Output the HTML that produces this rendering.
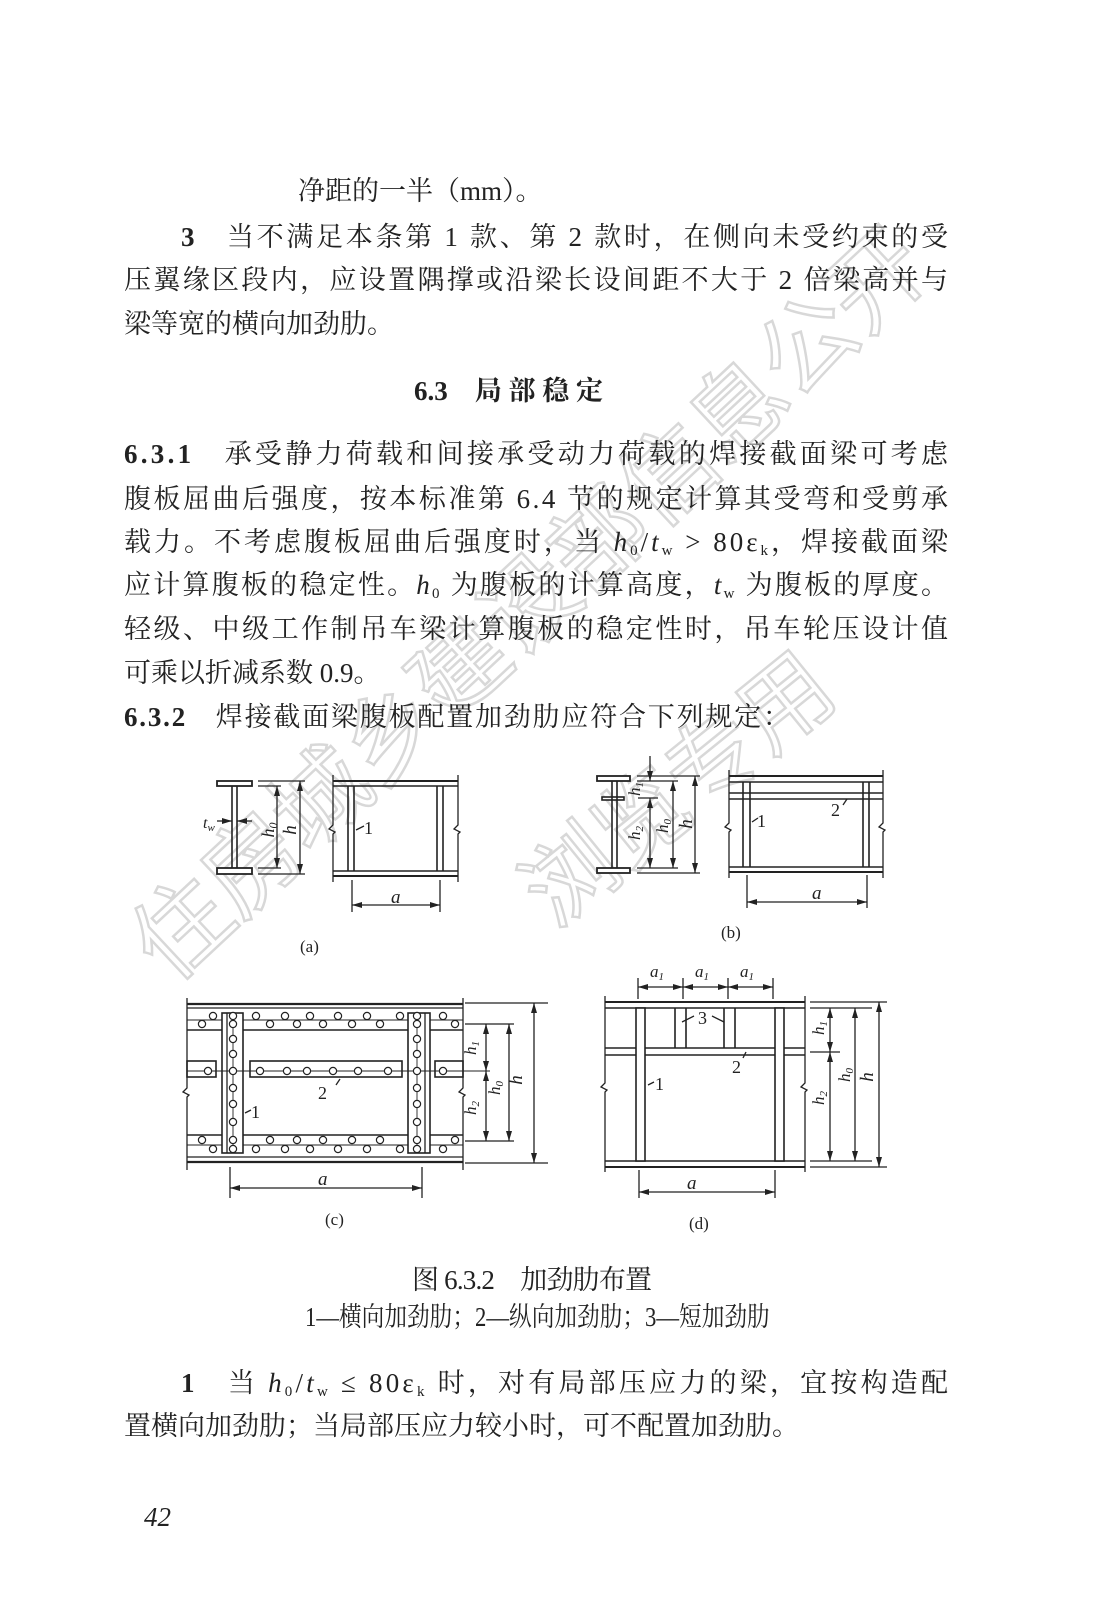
<!DOCTYPE html>
<html><head><meta charset="utf-8">
<style>
html,body{margin:0;padding:0;background:#fff}
svg{display:block}
.t{font-family:"Liberation Serif","Noto Serif CJK SC","Noto Sans CJK SC",serif;font-size:27px;fill:#222}
.d{font-family:"Liberation Serif",serif;font-style:italic;fill:#222}
.n{font-family:"Liberation Serif",serif;fill:#222}
</style></head><body>
<svg width="1103" height="1597" viewBox="0 0 1103 1597" xmlns="http://www.w3.org/2000/svg">
<defs>
<marker id="ar" viewBox="0 0 10 6" refX="10" refY="3" markerWidth="10" markerHeight="6" markerUnits="userSpaceOnUse" orient="auto-start-reverse">
<path d="M0,0 L10,3 L0,6 z" fill="#222"/></marker>
</defs>

<!-- watermark -->
<g font-family="'Noto Sans CJK SC',sans-serif" fill="none" stroke="#d8d8d8" stroke-width="2.5">
<text transform="translate(170,985) rotate(-43)" font-size="95">住房城乡建设部信息公开</text>
<text transform="translate(555,930) rotate(-39)" font-size="92">浏览专用</text>
</g>

<!-- body text -->
<text class="t" x="298" y="200">净距的一半（mm）。</text>
<text class="t" x="181" y="246" textLength="767" lengthAdjust="spacing"><tspan font-weight="bold">3</tspan>　当不满足本条第 1 款、第 2 款时，在侧向未受约束的受</text>
<text class="t" x="124" y="289" textLength="824" lengthAdjust="spacing">压翼缘区段内，应设置隅撑或沿梁长设间距不大于 2 倍梁高并与</text>
<text class="t" x="124" y="333">梁等宽的横向加劲肋。</text>
<text class="t" x="414" y="400" font-weight="bold" font-family="'Liberation Serif','Noto Sans CJK SC',sans-serif" font-size="25">6.3　局 部 稳 定</text>

<text class="t" x="124" y="463" textLength="824" lengthAdjust="spacing"><tspan font-weight="bold">6.3.1</tspan>　承受静力荷载和间接承受动力荷载的焊接截面梁可考虑</text>
<text class="t" x="124" y="508" textLength="824" lengthAdjust="spacing">腹板屈曲后强度，按本标准第 6.4 节的规定计算其受弯和受剪承</text>
<text class="t" x="124" y="551" textLength="824" lengthAdjust="spacing">载力。不考虑腹板屈曲后强度时，当 <tspan font-style="italic">h</tspan><tspan font-size="15" dy="4">0</tspan><tspan dy="-4">/</tspan><tspan font-style="italic">t</tspan><tspan font-size="15" dy="4">w</tspan><tspan dy="-4"> &gt; 80ε</tspan><tspan font-size="15" dy="4">k</tspan><tspan dy="-4">，焊接截面梁</tspan></text>
<text class="t" x="124" y="594" textLength="824" lengthAdjust="spacing">应计算腹板的稳定性。<tspan font-style="italic">h</tspan><tspan font-size="15" dy="4">0</tspan><tspan dy="-4"> 为腹板的计算高度，</tspan><tspan font-style="italic">t</tspan><tspan font-size="15" dy="4">w</tspan><tspan dy="-4"> 为腹板的厚度。</tspan></text>
<text class="t" x="124" y="638" textLength="824" lengthAdjust="spacing">轻级、中级工作制吊车梁计算腹板的稳定性时，吊车轮压设计值</text>
<text class="t" x="124" y="682">可乘以折减系数 0.9。</text>
<text class="t" x="124" y="726" textLength="666" lengthAdjust="spacing"><tspan font-weight="bold">6.3.2</tspan>　焊接截面梁腹板配置加劲肋应符合下列规定：</text>

<!-- ===== (a) ===== -->
<g stroke="#222" fill="none" stroke-width="1.3">
<rect x="217" y="781" width="35" height="5" fill="#fff" stroke-width="1.8"/>
<rect x="217" y="868" width="35" height="6" fill="#fff" stroke-width="1.8"/>
<line x1="232" y1="786" x2="232" y2="868" stroke-width="1.6"/>
<line x1="237" y1="786" x2="237" y2="868" stroke-width="1.6"/>
<line x1="258" y1="781" x2="305" y2="781"/><line x1="258" y1="874" x2="305" y2="874"/>
<line x1="258" y1="786" x2="281" y2="786"/><line x1="258" y1="868" x2="281" y2="868"/>
<line x1="277" y1="786" x2="277" y2="868" marker-start="url(#ar)" marker-end="url(#ar)"/>
<line x1="300" y1="781" x2="300" y2="874" marker-start="url(#ar)" marker-end="url(#ar)"/>
<line x1="217" y1="821" x2="232" y2="821" marker-end="url(#ar)"/>
<line x1="252" y1="821" x2="237" y2="821" marker-end="url(#ar)"/>
<line x1="333" y1="781" x2="458" y2="781" stroke-width="2"/>
<line x1="333" y1="786" x2="458" y2="786" stroke-width="1.6"/>
<line x1="333" y1="871" x2="458" y2="871" stroke-width="1.6"/>
<line x1="333" y1="876" x2="458" y2="876" stroke-width="2"/>
<line x1="348" y1="786" x2="348" y2="871" stroke-width="1.6"/>
<line x1="354" y1="786" x2="354" y2="871" stroke-width="1.6"/>
<line x1="437" y1="786" x2="437" y2="871" stroke-width="1.6"/>
<line x1="443" y1="786" x2="443" y2="871" stroke-width="1.6"/>
<path d="M333,775 V825 l-4,4 l6,3 l-2,2 V882"/>
<path d="M458,775 V825 l-4,4 l6,3 l-2,2 V882"/>
<line x1="352" y1="880" x2="352" y2="912"/><line x1="440" y1="880" x2="440" y2="912"/>
<line x1="352" y1="905" x2="440" y2="905" marker-start="url(#ar)" marker-end="url(#ar)"/>
<path d="M356,830 l8,-4"/>
</g>
<text class="d" x="203" y="828" font-size="16">t<tspan font-size="11" dy="3">w</tspan></text>
<text class="d" transform="translate(274,830) rotate(-90)" font-size="18" text-anchor="middle">h<tspan font-size="12" dy="3">0</tspan></text>
<text class="d" transform="translate(296,830) rotate(-90)" font-size="19" text-anchor="middle">h</text>
<text class="n" x="364" y="834" font-size="18">1</text>
<text class="d" x="391" y="903" font-size="19">a</text>
<text class="n" x="300" y="952" font-size="17">(a)</text>

<!-- ===== (b) ===== -->
<g stroke="#222" fill="none" stroke-width="1.3">
<rect x="597" y="776" width="33" height="5" fill="#fff" stroke-width="1.8"/>
<rect x="597" y="868" width="33" height="5" fill="#fff" stroke-width="1.8"/>
<rect x="602" y="797" width="22" height="3" fill="#fff" stroke-width="1.6"/>
<line x1="612" y1="781" x2="612" y2="868" stroke-width="1.6"/>
<line x1="617" y1="781" x2="617" y2="868" stroke-width="1.6"/>
<line x1="637" y1="776" x2="700" y2="776"/><line x1="637" y1="873" x2="700" y2="873"/>
<line x1="637" y1="781" x2="678" y2="781"/><line x1="637" y1="868" x2="678" y2="868"/>
<line x1="638" y1="798" x2="658" y2="798"/>
<line x1="650" y1="756" x2="650" y2="781" marker-end="url(#ar)"/>
<line x1="650" y1="798" x2="650" y2="868" marker-start="url(#ar)" marker-end="url(#ar)"/>
<line x1="673" y1="781" x2="673" y2="868" marker-start="url(#ar)" marker-end="url(#ar)"/>
<line x1="695" y1="776" x2="695" y2="873" marker-start="url(#ar)" marker-end="url(#ar)"/>
<line x1="729" y1="776" x2="883" y2="776" stroke-width="2"/>
<line x1="729" y1="782" x2="883" y2="782" stroke-width="1.6"/>
<line x1="729" y1="793" x2="883" y2="793" stroke-width="1.6"/>
<line x1="729" y1="799" x2="883" y2="799" stroke-width="1.6"/>
<line x1="729" y1="867" x2="883" y2="867" stroke-width="1.6"/>
<line x1="729" y1="872" x2="883" y2="872" stroke-width="2"/>
<line x1="743" y1="782" x2="743" y2="867" stroke-width="1.6"/>
<line x1="750" y1="782" x2="750" y2="867" stroke-width="1.6"/>
<line x1="863" y1="782" x2="863" y2="867" stroke-width="1.6"/>
<line x1="869" y1="782" x2="869" y2="867" stroke-width="1.6"/>
<path d="M729,770 V823 l-4,4 l6,3 l-2,2 V878"/>
<path d="M883,770 V823 l-4,4 l6,3 l-2,2 V878"/>
<line x1="747" y1="875" x2="747" y2="908"/><line x1="867" y1="875" x2="867" y2="908"/>
<line x1="747" y1="902" x2="867" y2="902" marker-start="url(#ar)" marker-end="url(#ar)"/>
<path d="M752,822 l6,-4"/><path d="M843,805 l4,-6"/>
</g>
<text class="d" transform="translate(640,789) rotate(-90)" font-size="17" text-anchor="middle">h<tspan font-size="11" dy="3">1</tspan></text>
<text class="d" transform="translate(640,833) rotate(-90)" font-size="17" text-anchor="middle">h<tspan font-size="11" dy="3">2</tspan></text>
<text class="d" transform="translate(668,826) rotate(-90)" font-size="17" text-anchor="middle">h<tspan font-size="11" dy="3">0</tspan></text>
<text class="d" transform="translate(692,824) rotate(-90)" font-size="19" text-anchor="middle">h</text>
<text class="n" x="757" y="827" font-size="18">1</text>
<text class="n" x="831" y="816" font-size="18">2</text>
<text class="d" x="812" y="899" font-size="19">a</text>
<text class="n" x="721" y="938" font-size="17">(b)</text>

<!-- ===== (c) ===== -->
<g stroke="#222" fill="none" stroke-width="1.3">
<line x1="187" y1="1004" x2="463" y2="1004" stroke-width="2.2"/>
<line x1="187" y1="1008" x2="463" y2="1008"/>
<line x1="187" y1="1020" x2="463" y2="1020" stroke-width="1"/>
<line x1="187" y1="1030" x2="463" y2="1030" stroke-width="1.6"/>
<line x1="187" y1="1135" x2="463" y2="1135" stroke-width="1.6"/>
<line x1="187" y1="1145" x2="463" y2="1145" stroke-width="1"/>
<line x1="187" y1="1157" x2="463" y2="1157"/>
<line x1="187" y1="1162" x2="463" y2="1162" stroke-width="2.2"/>
<rect x="222" y="1013" width="21" height="140" fill="#fff" stroke-width="1.6"/>
<line x1="227" y1="1013" x2="227" y2="1153"/>
<rect x="408" y="1013" width="22" height="140" fill="#fff" stroke-width="1.6"/>
<line x1="425" y1="1013" x2="425" y2="1153"/>
<rect x="187" y="1061" width="29" height="16" fill="#fff" stroke-width="1.6"/>
<rect x="250" y="1061" width="152" height="16" fill="#fff" stroke-width="1.6"/>
<rect x="435" y="1061" width="28" height="16" fill="#fff" stroke-width="1.6"/>
<line x1="187" y1="1071" x2="490" y2="1071" stroke-width="0.9"/>
<line x1="233" y1="1013" x2="233" y2="1153" stroke-width="0.9"/>
<line x1="417" y1="1013" x2="417" y2="1153" stroke-width="0.9"/>
<path d="M187,998 V1088 l-4,4 l6,3 l-2,2 V1170"/>
<path d="M463,998 V1088 l-4,4 l6,3 l-2,2 V1170"/>
<line x1="465" y1="1003" x2="548" y2="1003"/><line x1="465" y1="1163" x2="548" y2="1163"/>
<line x1="465" y1="1024" x2="514" y2="1024"/><line x1="465" y1="1141" x2="514" y2="1141"/>
<line x1="534" y1="1003" x2="534" y2="1163" marker-start="url(#ar)" marker-end="url(#ar)"/>
<line x1="509" y1="1024" x2="509" y2="1141" marker-start="url(#ar)" marker-end="url(#ar)"/>
<line x1="486" y1="1024" x2="486" y2="1071" marker-start="url(#ar)" marker-end="url(#ar)"/>
<line x1="486" y1="1071" x2="486" y2="1141" marker-start="url(#ar)" marker-end="url(#ar)"/>
<line x1="230" y1="1167" x2="230" y2="1198"/><line x1="422" y1="1167" x2="422" y2="1198"/>
<line x1="230" y1="1188" x2="422" y2="1188" marker-start="url(#ar)" marker-end="url(#ar)"/>
<path d="M245,1113 l6,-3"/><path d="M336,1085 l4,-6"/>
</g>
<g stroke="#222" stroke-width="1.2" fill="#fff">
<circle cx="213" cy="1016" r="3.6"/><circle cx="256" cy="1016" r="3.6"/><circle cx="285" cy="1016" r="3.6"/><circle cx="310" cy="1016" r="3.6"/><circle cx="338" cy="1016" r="3.6"/><circle cx="367" cy="1016" r="3.6"/><circle cx="400" cy="1016" r="3.6"/><circle cx="443" cy="1016" r="3.6"/>
<circle cx="202" cy="1024" r="3.6"/><circle cx="270" cy="1024" r="3.6"/><circle cx="297" cy="1024" r="3.6"/><circle cx="323" cy="1024" r="3.6"/><circle cx="352" cy="1024" r="3.6"/><circle cx="380" cy="1024" r="3.6"/><circle cx="455" cy="1024" r="3.6"/>
<circle cx="202" cy="1140" r="3.6"/><circle cx="270" cy="1140" r="3.6"/><circle cx="297" cy="1140" r="3.6"/><circle cx="323" cy="1140" r="3.6"/><circle cx="352" cy="1140" r="3.6"/><circle cx="380" cy="1140" r="3.6"/><circle cx="455" cy="1140" r="3.6"/>
<circle cx="213" cy="1149" r="3.6"/><circle cx="256" cy="1149" r="3.6"/><circle cx="285" cy="1149" r="3.6"/><circle cx="310" cy="1149" r="3.6"/><circle cx="338" cy="1149" r="3.6"/><circle cx="367" cy="1149" r="3.6"/><circle cx="400" cy="1149" r="3.6"/><circle cx="443" cy="1149" r="3.6"/>
<circle cx="208" cy="1071" r="3.6"/><circle cx="260" cy="1071" r="3.6"/><circle cx="287" cy="1071" r="3.6"/><circle cx="307" cy="1071" r="3.6"/><circle cx="333" cy="1071" r="3.6"/><circle cx="358" cy="1071" r="3.6"/><circle cx="388" cy="1071" r="3.6"/><circle cx="443" cy="1071" r="3.6"/>
<circle cx="233" cy="1016" r="3.6"/><circle cx="233" cy="1024" r="3.6"/><circle cx="233" cy="1039" r="3.6"/><circle cx="233" cy="1054" r="3.6"/><circle cx="233" cy="1071" r="3.6"/><circle cx="233" cy="1088" r="3.6"/><circle cx="233" cy="1104" r="3.6"/><circle cx="233" cy="1122" r="3.6"/><circle cx="233" cy="1140" r="3.6"/><circle cx="233" cy="1149" r="3.6"/>
<circle cx="417" cy="1016" r="3.6"/><circle cx="417" cy="1024" r="3.6"/><circle cx="417" cy="1039" r="3.6"/><circle cx="417" cy="1054" r="3.6"/><circle cx="417" cy="1071" r="3.6"/><circle cx="417" cy="1088" r="3.6"/><circle cx="417" cy="1104" r="3.6"/><circle cx="417" cy="1122" r="3.6"/><circle cx="417" cy="1140" r="3.6"/><circle cx="417" cy="1149" r="3.6"/>
</g>
<text class="d" transform="translate(476,1048) rotate(-90)" font-size="17" text-anchor="middle">h<tspan font-size="11" dy="3">1</tspan></text>
<text class="d" transform="translate(476,1108) rotate(-90)" font-size="17" text-anchor="middle">h<tspan font-size="11" dy="3">2</tspan></text>
<text class="d" transform="translate(500,1088) rotate(-90)" font-size="17" text-anchor="middle">h<tspan font-size="11" dy="3">0</tspan></text>
<text class="d" transform="translate(522,1080) rotate(-90)" font-size="19" text-anchor="middle">h</text>
<text class="n" x="251" y="1118" font-size="18">1</text>
<text class="n" x="318" y="1099" font-size="18">2</text>
<text class="d" x="318" y="1185" font-size="19">a</text>
<text class="n" x="325" y="1225" font-size="17">(c)</text>

<!-- ===== (d) ===== -->
<g stroke="#222" fill="none" stroke-width="1.3">
<line x1="605" y1="1002" x2="805" y2="1002" stroke-width="2"/>
<line x1="605" y1="1008" x2="805" y2="1008" stroke-width="1.6"/>
<line x1="605" y1="1048" x2="805" y2="1048" stroke-width="1.6"/>
<line x1="605" y1="1055" x2="805" y2="1055" stroke-width="1.6"/>
<line x1="605" y1="1161" x2="805" y2="1161" stroke-width="1.6"/>
<line x1="605" y1="1167" x2="805" y2="1167" stroke-width="2"/>
<rect x="636" y="1008" width="9" height="153" fill="#fff" stroke-width="1.6"/>
<rect x="775" y="1008" width="9" height="153" fill="#fff" stroke-width="1.6"/>
<line x1="675" y1="1008" x2="675" y2="1048" stroke-width="1.6"/><line x1="686" y1="1008" x2="686" y2="1048" stroke-width="1.6"/>
<line x1="724" y1="1008" x2="724" y2="1048" stroke-width="1.6"/><line x1="735" y1="1008" x2="735" y2="1048" stroke-width="1.6"/>
<path d="M605,996 V1083 l-4,4 l6,3 l-2,2 V1172"/>
<path d="M805,996 V1083 l-4,4 l6,3 l-2,2 V1172"/>
<line x1="638" y1="978" x2="638" y2="999"/><line x1="683" y1="978" x2="683" y2="999"/><line x1="728" y1="978" x2="728" y2="999"/><line x1="773" y1="978" x2="773" y2="999"/>
<line x1="638" y1="987" x2="683" y2="987" marker-start="url(#ar)" marker-end="url(#ar)"/>
<line x1="683" y1="987" x2="728" y2="987" marker-start="url(#ar)" marker-end="url(#ar)"/>
<line x1="728" y1="987" x2="773" y2="987" marker-start="url(#ar)" marker-end="url(#ar)"/>
<line x1="810" y1="1002" x2="887" y2="1002"/><line x1="810" y1="1167" x2="887" y2="1167"/>
<line x1="810" y1="1008" x2="872" y2="1008"/><line x1="810" y1="1161" x2="872" y2="1161"/>
<line x1="810" y1="1052" x2="840" y2="1052"/>
<line x1="830" y1="1008" x2="830" y2="1052" marker-start="url(#ar)" marker-end="url(#ar)"/>
<line x1="830" y1="1052" x2="830" y2="1161" marker-start="url(#ar)" marker-end="url(#ar)"/>
<line x1="855" y1="1008" x2="855" y2="1161" marker-start="url(#ar)" marker-end="url(#ar)"/>
<line x1="879" y1="1002" x2="879" y2="1167" marker-start="url(#ar)" marker-end="url(#ar)"/>
<line x1="639" y1="1170" x2="639" y2="1198"/><line x1="775" y1="1170" x2="775" y2="1198"/>
<line x1="639" y1="1192" x2="775" y2="1192" marker-start="url(#ar)" marker-end="url(#ar)"/>
<path d="M648,1085 l6,-3"/><path d="M682,1022 l12,-6"/><path d="M712,1016 l12,6"/><path d="M743,1058 l3,-6"/>
</g>
<text class="d" x="650" y="977" font-size="17">a<tspan font-size="11" dy="3">1</tspan></text>
<text class="d" x="695" y="977" font-size="17">a<tspan font-size="11" dy="3">1</tspan></text>
<text class="d" x="740" y="977" font-size="17">a<tspan font-size="11" dy="3">1</tspan></text>
<text class="d" transform="translate(824,1028) rotate(-90)" font-size="17" text-anchor="middle">h<tspan font-size="11" dy="3">1</tspan></text>
<text class="d" transform="translate(824,1098) rotate(-90)" font-size="17" text-anchor="middle">h<tspan font-size="11" dy="3">2</tspan></text>
<text class="d" transform="translate(850,1075) rotate(-90)" font-size="17" text-anchor="middle">h<tspan font-size="11" dy="3">0</tspan></text>
<text class="d" transform="translate(873,1077) rotate(-90)" font-size="19" text-anchor="middle">h</text>
<text class="n" x="698" y="1024" font-size="18">3</text>
<text class="n" x="732" y="1073" font-size="18">2</text>
<text class="n" x="655" y="1090" font-size="18">1</text>
<text class="d" x="687" y="1189" font-size="19">a</text>
<text class="n" x="689" y="1229" font-size="17">(d)</text>

<!-- captions -->
<text class="t" x="412" y="1289" font-size="20" textLength="240" lengthAdjust="spacing">图 6.3.2　加劲肋布置</text>
<text class="t" transform="translate(305,1326) scale(0.84,1)" font-size="17">1—横向加劲肋；2—纵向加劲肋；3—短加劲肋</text>

<text class="t" x="181" y="1392" textLength="767" lengthAdjust="spacing"><tspan font-weight="bold">1</tspan>　当 <tspan font-style="italic">h</tspan><tspan font-size="15" dy="4">0</tspan><tspan dy="-4">/</tspan><tspan font-style="italic">t</tspan><tspan font-size="15" dy="4">w</tspan><tspan dy="-4"> ≤ 80ε</tspan><tspan font-size="15" dy="4">k</tspan><tspan dy="-4"> 时，对有局部压应力的梁，宜按构造配</tspan></text>
<text class="t" x="124" y="1435">置横向加劲肋；当局部压应力较小时，可不配置加劲肋。</text>

<text class="d" x="144" y="1526" font-size="27" fill="#444">42</text>
</svg>
</body></html>
